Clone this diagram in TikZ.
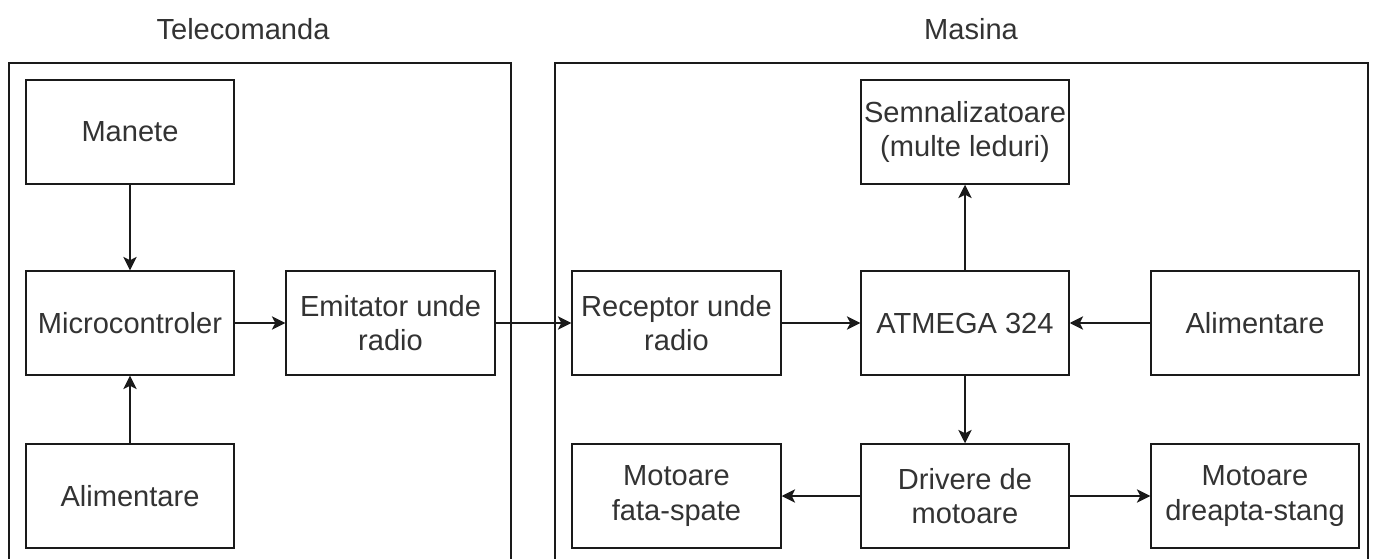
\documentclass[tikz,border=0pt]{standalone}
\usepackage{fontspec}
\setmainfont{Liberation Sans}
\usetikzlibrary{arrows.meta}
\definecolor{ink}{HTML}{1A1A1A}
\definecolor{txt}{HTML}{333333}
\tikzset{
 x=0.75pt,y=-0.75pt,
 bx/.style={draw=ink,line width=1.1pt,rectangle,inner sep=0pt,align=center,font=\fontsize{21.8}{25.6}\selectfont,text=txt},
 conn/.style={draw=ink,line width=1.1pt,-{Stealth[length=10pt,width=10pt,inset=2.5pt]}},
 ttl/.style={font=\fontsize{21.8}{25.6}\selectfont,text=txt,inner sep=0pt},
}
\newcommand{\bxat}[6]{\node[bx,minimum width=#4*0.75pt,minimum height=#5*0.75pt] (#1) at ({#2+#4/2},{#3+#5/2}) {#6};}
\begin{document}
\begin{tikzpicture}
\useasboundingbox (0,0) rectangle (1373,559);
\fill[white] (0,0) rectangle (1373,559);
\node[ttl] (t1) at (243,29) {Telecomanda};
\node[ttl] (t2) at (971,29) {Masina};
\begin{scope}
\clip (0,0) rectangle (1373,559);
\bxat{tc}{9}{63}{502}{510}{}
\bxat{ms}{555}{63}{813}{510}{}
\end{scope}
\bxat{man}{26}{80}{208}{104}{Manete}
\bxat{mic}{26}{271}{208}{104}{Microcontroler}
\bxat{ali}{26}{444}{208}{104}{Alimentare}
\bxat{emi}{286}{271}{209}{104}{Emitator unde\\radio}
\bxat{rec}{572}{271}{209}{104}{Receptor unde\\radio}
\bxat{atm}{861}{271}{208}{104}{ATMEGA 324}
\bxat{sem}{861}{80}{208}{104}{Semnalizatoare\\(multe leduri)}
\bxat{al2}{1151}{271}{208}{104}{Alimentare}
\bxat{drv}{861}{444}{208}{104}{Drivere de\\motoare}
\bxat{mfs}{572}{444}{209}{104}{Motoare\\fata-spate}
\bxat{mds}{1151}{444}{208}{104}{Motoare\\dreapta-stang}
\draw[conn] (man) -- (mic);
\draw[conn] (ali) -- (mic);
\draw[conn] (mic) -- (emi);
\draw[conn] (emi) -- (rec);
\draw[conn] (rec) -- (atm);
\draw[conn] (al2) -- (atm);
\draw[conn] (atm) -- (sem);
\draw[conn] (atm) -- (drv);
\draw[conn] (drv) -- (mfs);
\draw[conn] (drv) -- (mds);
\end{tikzpicture}
\end{document}
